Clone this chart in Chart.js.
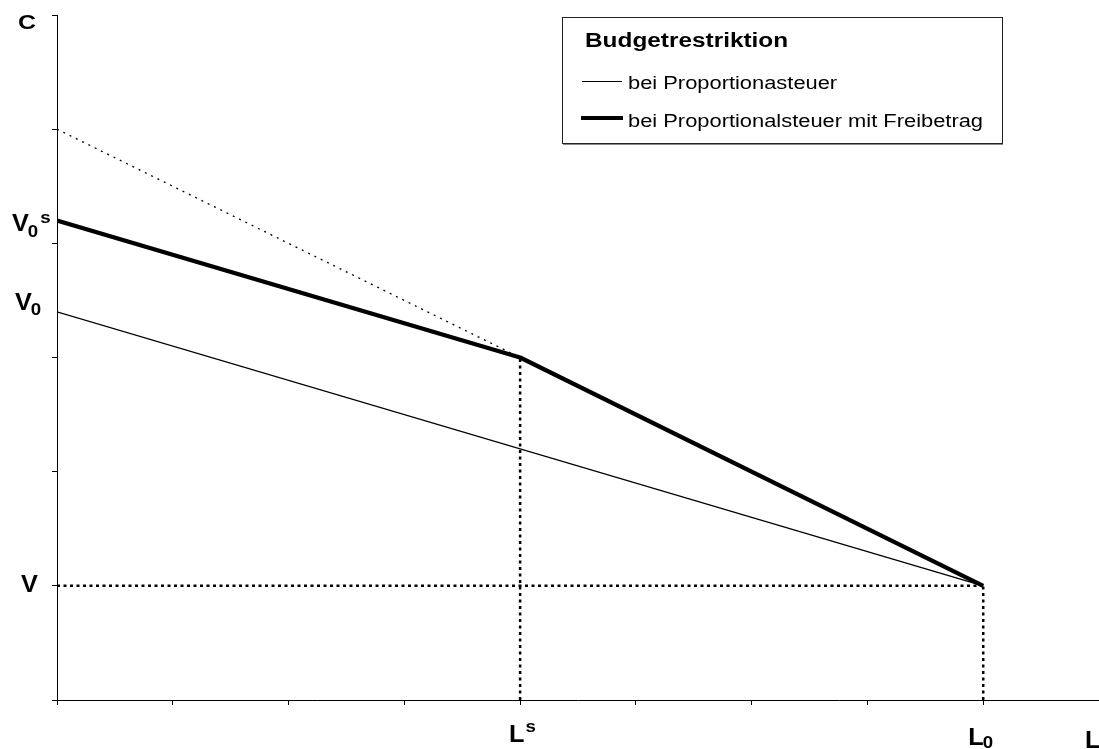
<!DOCTYPE html>
<html>
<head>
<meta charset="utf-8">
<title>Budgetrestriktion</title>
<script src="https://cdn.jsdelivr.net/npm/chart.js@4/dist/chart.umd.min.js"></script>
<style>
  body { margin: 0; background: #fff; }
  canvas { display: block; }
</style>
</head>
<body>
<canvas id="chart" width="1099" height="749"></canvas>
<script>
// Budgetrestriktion: Proportionalsteuer ohne / mit Freibetrag
const xProp = [0, 8];
const yProp = [3.4, 1];
const xFrei = [0, 4, 8];
const yFrei = [4.2, 3, 1];
const xExt = [0, 4];          // gestrichelte Verlaengerung
const yExt = [5, 3];
const xGuide = [4, 8];        // senkrechte Hilfslinien (L^s, L0)
const yGuide = [3, 1];
const vLevel = 1;             // waagrechte Hilfslinie bei V

const legendTitle = 'Budgetrestriktion';
const seriesNames = ['bei Proportionasteuer', 'bei Proportionalsteuer mit Freibetrag'];

const yLabelVals = [1, 3.4, 4.2];
const yLabelBase = ['V', 'V', 'V'];
const yLabelSub = ['', '0', '0'];
const yLabelSup = ['', '', 's'];
const xLabelVals = [4, 8];
const xLabelBase = ['L', 'L'];
const xLabelSub = ['', '0'];
const xLabelSup = ['s', ''];

const FONT = "'Liberation Sans', Arial, sans-serif";

function pts(xs, ys) {
  return xs.map((x, i) => ({ x: x, y: ys[i] }));
}

const datasets = [
  { data: pts(xFrei, yFrei), borderColor: '#000', borderWidth: 4.2, borderJoinStyle: 'round' },
  { data: pts(xProp, yProp), borderColor: '#000', borderWidth: 1.3 },
  { data: pts(xExt, yExt), borderColor: '#000', borderWidth: 1.3, borderDash: [2, 5] },
  { data: pts([0, xGuide[1]], [vLevel, vLevel]), borderColor: '#000', borderWidth: 2.5, borderDash: [3, 3.5] },
  { data: pts([xGuide[0], xGuide[0]], [0, yGuide[0]]), borderColor: '#000', borderWidth: 2.5, borderDash: [3, 3.5] },
  { data: pts([xGuide[1], xGuide[1]], [0, yGuide[1]]), borderColor: '#000', borderWidth: 2.5, borderDash: [3, 3.5] }
];

function txt(ctx, str, x, y, size, bold, stretch) {
  ctx.save();
  ctx.font = (bold ? 'bold ' : '') + size + 'px ' + FONT;
  ctx.fillStyle = '#000';
  ctx.textBaseline = 'alphabetic';
  ctx.translate(x, y);
  ctx.scale(stretch, 1);
  ctx.fillText(str, 0, 0);
  const w = ctx.measureText(str).width * stretch;
  ctx.restore();
  return w;
}

// Buchstabe mit Index / Exponent
function label(ctx, base, sub, sup, x, y, subDy, supDy) {
  const w = txt(ctx, base, x, y, 23, true, 1.1);
  let cx = x + w;
  if (sub) cx += txt(ctx, sub, cx - 1, y + subDy, 17, true, 1.1);
  if (sup) txt(ctx, sup, cx + 1, y + supDy, 17, true, 1.1);
}

const labelsPlugin = {
  id: 'labels',
  afterDraw(chart) {
    const ctx = chart.ctx;
    const sx = chart.scales.x, sy = chart.scales.y;

    // Achsennamen
    txt(ctx, 'C', sx.left - 39, sy.top + 14, 20, true, 1.25);
    label(ctx, 'L', '', '', sx.right - 14, 748, 0, 0);

    const yLeft = [21, 15, 12];
    const yOff = [6, -2, 10];
    const ySubDy = [0, 5, 6];
    yLabelVals.forEach((v, i) => {
      label(ctx, yLabelBase[i], yLabelSub[i], yLabelSup[i], yLeft[i],
        sy.getPixelForValue(v) + yOff[i], ySubDy[i], -8);
    });
    const xOff = [-11, -15];
    const xBase = [742, 745];
    xLabelVals.forEach((v, i) => {
      label(ctx, xLabelBase[i], xLabelSub[i], xLabelSup[i],
        sx.getPixelForValue(v) + xOff[i], xBase[i], 3, -10);
    });

    // Legende
    const bx = 562, by = 17, bw = 440, bh = 126;
    ctx.save();
    ctx.fillStyle = '#fff';
    ctx.fillRect(bx, by, bw, bh);
    ctx.strokeStyle = '#222';
    ctx.lineWidth = 1;
    ctx.strokeRect(bx + 0.5, by + 0.5, bw, bh);
    ctx.strokeStyle = '#888';
    ctx.beginPath();
    ctx.moveTo(bx + 1, by + bh + 1.5);
    ctx.lineTo(bx + bw + 1, by + bh + 1.5);
    ctx.stroke();

    ctx.strokeStyle = '#000';
    ctx.lineWidth = 1;
    ctx.beginPath();
    ctx.moveTo(bx + 20, 81.5);
    ctx.lineTo(bx + 60, 81.5);
    ctx.stroke();
    ctx.lineWidth = 4;
    ctx.beginPath();
    ctx.moveTo(bx + 19, 118);
    ctx.lineTo(bx + 61, 118);
    ctx.stroke();
    ctx.restore();

    txt(ctx, legendTitle, bx + 23, 47, 19.5, true, 1.25);
    txt(ctx, seriesNames[0], bx + 66, 89, 17.5, false, 1.25);
    txt(ctx, seriesNames[1], bx + 66, 127, 17.5, false, 1.25);
  }
};

const axisGrid = { drawOnChartArea: false, drawTicks: true, tickLength: 5, color: '#000', lineWidth: 1 };

new Chart(document.getElementById('chart'), {
  type: 'line',
  data: { datasets: datasets },
  options: {
    responsive: false,
    animation: false,
    elements: { point: { radius: 0 }, line: { tension: 0, fill: false } },
    layout: { padding: { top: 15, right: 0, bottom: 0, left: 0 } },
    plugins: { legend: { display: false }, tooltip: { enabled: false } },
    scales: {
      x: {
        type: 'linear', min: 0, max: 9,
        ticks: { display: false, stepSize: 1 },
        grid: axisGrid,
        border: { color: '#000', width: 1 },
        afterFit(s) { s.height = 49; }
      },
      y: {
        type: 'linear', min: 0, max: 6,
        ticks: { display: false, stepSize: 1 },
        grid: axisGrid,
        border: { color: '#000', width: 1 },
        afterFit(s) { s.width = 57; }
      }
    }
  },
  plugins: [labelsPlugin]
});
</script>
</body>
</html>
